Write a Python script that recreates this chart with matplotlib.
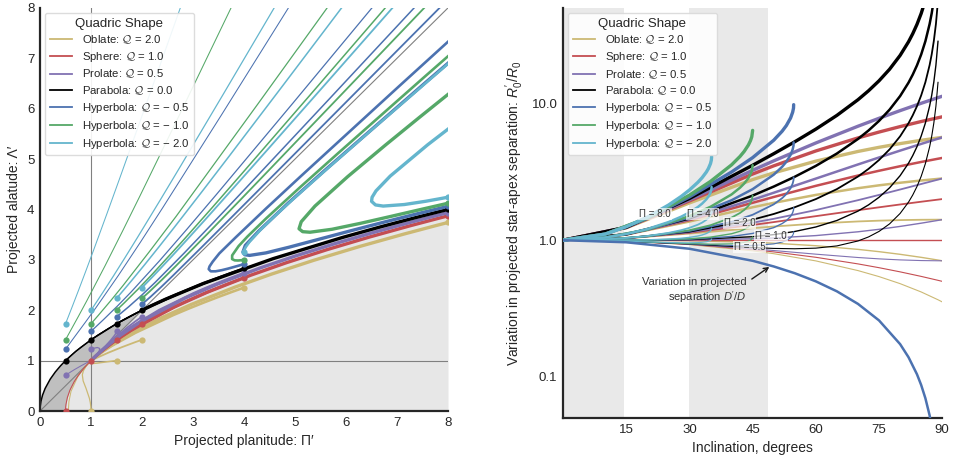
import numpy as np
import matplotlib
matplotlib.use("Agg")
import matplotlib.pyplot as plt
from matplotlib.lines import Line2D
from matplotlib.ticker import FixedLocator, FormatStrFormatter, NullLocator

plt.rcParams['font.family'] = ['Liberation Sans', 'DejaVu Sans']
plt.rcParams['mathtext.fontset'] = 'custom'
plt.rcParams['mathtext.rm'] = 'Liberation Sans'
plt.rcParams['mathtext.it'] = 'Liberation Sans:italic'
plt.rcParams['mathtext.bf'] = 'Liberation Sans:bold'
plt.rcParams['mathtext.cal'] = 'cmsy10'

# ---------------- categories ----------------
Q_VALUES = [2.0, 1.0, 0.5, 0.0, -0.5, -1.0, -2.0]
Q_NAMES = ['Oblate', 'Sphere', 'Prolate', 'Parabola', 'Hyperbola', 'Hyperbola', 'Hyperbola']
Q_COLORS = ['#CCB974', '#C44E52', '#8172B2', '#000000', '#4C72B0', '#55A868', '#64B5CD']
PI_LEFT = [0.5, 1.0, 1.5, 2.0, 4.0, 8.0]
PI_RIGHT = [0.5, 1.0, 2.0, 4.0, 8.0]

# ---------------- left panel: tracks (projected planitude, projected alatude) ----------------
TRACK_OBLATE = {
    0.5: ([0.5556, 0.56617, 0.60770, 0.74048, 0.84693, 0.96443, 1.0],
          [0.0, 0.1851, 0.3915, 0.68239, 0.83069, 0.9637, 1.0]),
    1.0: ([1.0, 0.99623, 0.98536, 0.96864, 0.90162, 0.84530, 0.82937, 0.85020, 0.90352, 0.94542, 0.98796, 1.0],
          [0.0, 0.0868, 0.17106, 0.25068, 0.45082, 0.59772, 0.71825, 0.79893, 0.88980, 0.94182, 0.98781, 1.0]),
    1.5: ([1.5, 1.42901, 1.27167, 1.11814, 1.01497, 0.98064, 0.97509, 0.98356, 0.99604, 1.0],
          [1.0, 0.99176, 0.97126, 0.95024, 0.94185, 0.94824, 0.96689, 0.98148, 0.99595, 1.0]),
    2.0: ([2.0, 1.87444, 1.6, 1.33333, 1.14286, 1.06212, 1.01530, 1.00382, 1.00016, 1.0],
          [1.41421, 1.36910, 1.26491, 1.15470, 1.06904, 1.03060, 1.00762, 1.00191, 1.00008, 1.0]),
    4.0: ([4.0, 3.94001, 3.77093, 3.52048, 3.22367, 2.91271, 2.61140, 1.87444, 1.40916, 1.21332, 1.08226, 1.03578, 1.00636, 1.0],
          [2.44949, 2.42798, 2.36652, 2.27300, 2.15796, 2.03187, 1.90337, 1.55420, 1.29440, 1.16813, 1.07202, 1.03332, 1.00626, 1.0]),
    8.0: ([8.0, 7.76333, 7.13032, 6.27613, 5.37451, 4.53859, 3.81814, 2.96739, 2.35161, 1.59499, 1.30630, 1.11916, 1.05255, 1.00949, 1.0],
          [3.74166, 3.67991, 3.50987, 3.26769, 2.99307, 2.71666, 2.45688, 2.11555, 1.83573, 1.43078, 1.24518, 1.10591, 1.04942, 1.00937, 1.0]),
}
TRACK_SPHERE = {
    0.5: ([0.5, 0.500954, 0.503827, 0.50867, 0.53590, 0.58579, 0.66667, 0.74515, 0.85206, 0.91983, 0.98284, 1.0],
          [0.0, 0.04368, 0.08749, 0.13168, 0.26796, 0.41422, 0.57735, 0.70021, 0.83912, 0.91633, 0.98269, 1.0]),
    1.0: ([1.0], [1.0]),
    1.5: ([1.5, 1.47487, 1.40582, 1.30839, 1.2, 1.12868, 1.06144, 1.02992, 1.00585, 1.0],
          [1.41421, 1.39633, 1.34597, 1.27153, 1.18322, 1.12132, 1.05966, 1.02949, 1.00583, 1.0]),
    2.0: ([2.0, 1.93411, 1.76371, 1.54692, 1.33333, 1.20629, 1.09508, 1.04556, 1.00880, 1.0],
          [1.73205, 1.69358, 1.58979, 1.44701, 1.29099, 1.18852, 1.09095, 1.04457, 1.00876, 1.0]),
    4.0: ([4.0, 3.62907, 3.38719, 3.12237, 2.85323, 2.12915, 1.6, 1.34502, 1.14974, 1.06995, 1.01326, 1.0],
          [2.64575, 2.50163, 2.40300, 2.29014, 2.16944, 1.80507, 1.48324, 1.30002, 1.13995, 1.06766, 1.01317, 1.0]),
    8.0: ([8.0, 7.79218, 7.23111, 6.45952, 5.62529, 4.83138, 4.12835, 3.26993, 2.62274, 1.77778, 1.42708, 1.17916, 1.08256, 1.01551, 1.0],
          [3.87298, 3.81895, 3.66909, 3.45240, 3.20165, 2.94326, 2.69383, 2.35369, 2.06046, 1.59862, 1.36168, 1.16547, 1.07941, 1.01539, 1.0]),
}
TRACK_PROLATE = {
    0.5: ([0.5, 0.517327, 0.571429, 0.666667, 0.8, 0.895273, 0.970729, 0.992461, 0.999694, 1.0],
          [0.70711, 0.71926, 0.75593, 0.81650, 0.89443, 0.94619, 0.98526, 0.99622, 0.99985, 1.0]),
    1.0: ([1.0, 1.01688, 1.06394, 1.12661, 1.16997, 1.16093, 1.10433, 1.05738, 1.01218, 1.0],
          [1.22474, 1.23144, 1.24758, 1.25959, 1.24094, 1.19440, 1.11262, 1.05939, 1.01226, 1.0]),
    1.5: ([1.5, 1.49957, 1.49282, 1.46304, 1.38322, 1.28836, 1.15741, 1.08095, 1.01640, 1.0],
          [1.58114, 1.57538, 1.55377, 1.50313, 1.40230, 1.29671, 1.15935, 1.08141, 1.01642, 1.0]),
    2.0: ([2.0, 1.96622, 1.86965, 1.71987, 1.52189, 1.36318, 1.18593, 1.09313, 1.01855, 1.0],
          [1.87083, 1.84800, 1.77985, 1.66525, 1.49793, 1.35318, 1.18369, 1.09261, 1.01853, 1.0]),
    4.0: ([4.0, 3.68752, 3.47977, 3.24855, 3.00901, 2.33456, 1.79131, 1.49325, 1.23144, 1.11194, 1.02176, 1.0],
          [2.73861, 2.61872, 2.53544, 2.43887, 2.33380, 2.00061, 1.66812, 1.44611, 1.22154, 1.10970, 1.02168, 1.0]),
    8.0: ([8.0, 7.80655, 7.28327, 6.55808, 5.76699, 5.00708, 4.32774, 3.48744, 2.84256, 1.96525, 1.56806, 1.25553, 1.12158, 1.02337, 1.0],
          [3.93700, 3.88731, 3.74952, 3.54948, 3.31707, 3.07654, 2.84325, 2.52214, 2.24019, 1.76932, 1.49695, 1.24110, 1.11835, 1.02326, 1.0]),
}
TRACK_PARABOLA = {
    0.5: ([0.5, 0.52645, 0.61538, 0.8, 1.14286, 1.48045, 1.83408, 1.95544, 1.99817],
          [1.0, 1.02611, 1.10940, 1.26491, 1.51186, 1.72073, 1.91524, 1.97760, 1.99908]),
    1.0: ([1.0, 1.03465, 1.14286, 1.33333, 1.6, 1.79055, 1.94146, 1.98492, 1.99939],
          [1.41421, 1.43851, 1.51186, 1.63299, 1.78885, 1.89238, 1.97052, 1.99245, 1.99970]),
    1.5: ([1.5, 1.52555, 1.6, 1.71429, 1.84615, 1.92494, 1.98010, 1.9995],
          [1.73205, 1.74674, 1.78885, 1.85164, 1.92154, 1.96211, 1.99002, 1.99975]),
    2.0: ([2.0], [2.0]),
    4.0: ([4.0, 3.74887, 3.2, 2.66667, 2.28571, 2.12424, 2.03061, 2.0003],
          [2.82843, 2.73820, 2.52982, 2.30940, 2.13809, 2.06118, 2.01525, 2.00015]),
    8.0: ([8.0, 7.82172, 7.33634, 6.66133, 5.92184, 4.57143, 3.2, 2.46154, 2.19234, 2.04628, 2.00046],
          [4.0, 3.95518, 3.83049, 3.65002, 3.44146, 3.02372, 2.52982, 2.21880, 2.09396, 2.02301, 2.00023]),
}
TRACK_HYP05 = {
    0.5: ([0.5, 0.51558, 0.56689, 0.67176, 0.88576, 1.09383, 1.53780, 1.96967, 2.41418, 3.55821, 6.04302],
          [1.22474, 1.24694, 1.31916, 1.46408, 1.75684, 2.04638, 2.69267, 3.35145, 4.04761, 5.87637, 9.898]),
    1.0: ([1.0, 1.02323, 1.09800, 1.24383, 1.52295, 1.78358, 2.33743, 2.88609, 3.45985, 4.95884, 8.24525],
          [1.58114, 1.60317, 1.67404, 1.81319, 2.08827, 2.35949, 2.97485, 3.61456, 4.29820, 6.11007, 10.118]),
    1.5: ([1.5, 1.52314, 1.59659, 1.73686, 2.00334, 2.25829, 2.82752, 3.41577, 4.04378, 5.70754, 9.38844],
          [1.87083, 1.88944, 1.94925, 2.06730, 2.30687, 2.55276, 3.13527, 3.75825, 4.43197, 6.23140, 10.23]),
    2.0: ([2.0, 2.01546, 2.06561, 2.16619, 2.37846, 2.60491, 3.15861, 3.76096, 4.41638, 6.17379, 10.0880],
          [2.12132, 2.13415, 2.17661, 2.26548, 2.46412, 2.68511, 3.23915, 3.84900, 4.51526, 6.30578, 10.30]),
    4.0: ([4.0, 3.91247, 3.69273, 3.56380, 3.44258, 3.34783, 3.30743, 3.32393, 3.38409, 3.51498, 3.83164, 4.43282, 5.12466, 7.03581, 11.3571],
          [2.91548, 2.88940, 2.82699, 2.79474, 2.77221, 2.77179, 2.81600, 2.86938, 2.96111, 3.12696, 3.44066, 4.01977, 4.66949, 6.44103, 10.42]),
    8.0: ([8.0, 7.39057, 6.77041, 6.09232, 5.44465, 4.88049, 4.42827, 4.11009, 4.01455, 3.97923, 4.02457, 4.28856, 4.86760, 5.57150, 7.56394, 12.1194],
          [4.06202, 3.91214, 3.75455, 3.57646, 3.40181, 3.24977, 3.13746, 3.08791, 3.10073, 3.15570, 3.28589, 3.57099, 4.12651, 4.76422, 6.52251, 10.49]),
}
TRACK_HYP1 = {
    0.5: ([0.5, 0.51968, 0.58778, 0.74788, 0.91311, 1.27550, 1.62268, 1.96184, 2.71558, 3.77043, 5.85213],
          [1.41421, 1.45036, 1.57511, 1.86969, 2.17946, 2.88267, 3.57941, 4.27311, 5.83826, 8.0524, 12.45]),
    1.0: ([1.0, 1.03134, 1.13783, 1.37980, 1.62311, 2.15151, 2.66667, 3.15891, 4.27597, 5.84806],
          [1.73205, 1.76829, 1.89237, 2.18165, 2.48395, 3.17203, 3.86008, 4.54462, 6.09968, 8.3064]),
    1.5: ([1.5, 1.53518, 1.65367, 1.92078, 2.19100, 2.79031, 3.37937, 3.96544, 5.28903, 7.16390],
          [2.0, 2.03336, 2.14773, 2.41693, 2.70292, 3.36740, 4.04049, 4.71875, 6.26356, 8.4633]),
    2.0: ([2.0, 2.03135, 2.13839, 2.38916, 2.65554, 3.27676, 3.90829, 4.54576, 5.99974, 8.07200],
          [2.23607, 2.26426, 2.36267, 2.60352, 2.86965, 3.50889, 4.16934, 4.84017, 6.37602, 8.5700]),
    4.0: ([4.0, 3.94290, 3.88208, 3.81640, 3.76659, 3.76697, 3.89399, 4.07007, 4.43704, 5.10718, 5.82429, 7.51436, 9.96722],
          [3.0, 2.99165, 2.98645, 2.98968, 3.01478, 3.08771, 3.27288, 3.46466, 3.82529, 4.44761, 5.09748, 6.60930, 8.788]),
    8.0: ([8.0, 7.44663, 6.88554, 6.28062, 5.72524, 5.29328, 5.14939, 5.07814, 5.12177, 5.39161, 6.03246, 6.77738, 7.44317, 8.59987],
          [4.12311, 3.99468, 3.86339, 3.72380, 3.60641, 3.54776, 3.55879, 3.61664, 3.75596, 4.06718, 4.65099, 5.28114, 5.83041, 6.77155]),
}
TRACK_HYP2 = {
    0.5: ([0.5, 0.52819, 0.56848, 0.63771, 0.76243, 0.89652, 1.04435, 1.31100, 1.56087, 2.06298, 2.62828, 3.04349],
          [1.73205, 1.80425, 1.90787, 2.08729, 2.41527, 2.77425, 3.17627, 3.91353, 4.61372, 6.03585, 7.6495, 8.839]),
    1.0: ([1.0, 1.04817, 1.11653, 1.23296, 1.44067, 1.66253, 1.90651, 2.34658, 2.75955, 3.59117, 4.52946, 5.21948],
          [2.0, 2.07250, 2.17625, 2.35526, 2.68141, 3.03784, 3.43701, 4.16976, 4.86659, 6.28393, 7.8942, 9.082]),
    1.5: ([1.5, 1.56012, 1.64524, 1.78986, 2.04794, 2.32459, 2.63033, 3.18527, 3.70897, 4.76867, 5.96863],
          [2.23607, 2.30633, 2.40697, 2.58090, 2.89906, 3.24847, 3.64152, 4.36627, 5.05792, 6.46860, 8.0744]),
    2.0: ([2.0, 2.06424, 2.15558, 2.31199, 2.59482, 2.90251, 3.24662, 3.87834, 4.47956, 5.70378, 7.09594],
          [2.44949, 2.51543, 2.61039, 2.77585, 3.08193, 3.42176, 3.80700, 4.52222, 5.20805, 6.61159, 8.2129]),
    4.0: ([4.0, 4.00581, 4.03142, 4.11079, 4.32870, 4.62858, 5.00602, 5.75750, 6.50773, 8.08058],
          [3.16228, 3.19539, 3.25052, 3.36198, 3.60084, 3.89366, 4.24406, 4.92024, 5.58392, 6.96180]),
    8.0: ([8.0, 7.88142, 7.56222, 7.14285, 6.72812, 6.57765, 6.50062, 6.51065, 6.58723, 6.86658, 7.59828, 8.41202],
          [4.24264, 4.22013, 4.16213, 4.09740, 4.06664, 4.08932, 4.16051, 4.24117, 4.36782, 4.66189, 5.28113, 5.91512]),
}
TRACKS = [TRACK_OBLATE, TRACK_SPHERE, TRACK_PROLATE, TRACK_PARABOLA, TRACK_HYP05, TRACK_HYP1, TRACK_HYP2]
NO_START_DOT = [(2.0, 0.5)]

# shaded regions (left panel)
FILL_PI = [0, 0.005, 0.02, 0.05, 0.1, 0.2, 0.3, 0.4, 0.5, 0.7, 1.0, 1.5, 2, 3, 4, 5, 6, 7, 8]
FILL_LAM = [0, 0.1, 0.2, 0.31623, 0.44721, 0.63246, 0.77460, 0.89443, 1.0, 1.18322, 1.41421,
            1.73205, 2.0, 2.44949, 2.82843, 3.16228, 3.46410, 3.74166, 4.0]
DARK_PI = [0, 0.005, 0.02, 0.05, 0.1, 0.2, 0.3, 0.4, 0.5, 0.505, 0.52, 0.55, 0.6, 0.7, 0.8, 0.9,
           1.0, 1.2, 1.4, 1.6, 1.8, 2.0]
DARK_UPPER = [0, 0.1, 0.2, 0.31623, 0.44721, 0.63246, 0.77460, 0.89443, 1.0, 1.00499, 1.01980,
              1.04881, 1.09545, 1.18322, 1.26491, 1.34164, 1.41421, 1.54919, 1.67332, 1.78885, 1.89737, 2.0]
DARK_LOWER = [0, 0, 0, 0, 0, 0, 0, 0, 0, 0.1, 0.2, 0.31623, 0.44721, 0.63246, 0.77460, 0.89443,
              1.0, 1.2, 1.4, 1.6, 1.8, 2.0]

# ---------------- right panel: R0'/R0 vs inclination ----------------
INC_ELL = [0, 15, 30, 45, 50, 60, 70, 75, 80, 85, 89, 90]
R0_OBLATE = {
    0.5: [1.0, 0.98268, 0.92903, 0.83652, 0.79701, 0.70572, 0.59958, 0.54170, 0.48111, 0.41825, 0.36662, 0.35355],
    1.0: [1.0, 0.99944, 0.99203, 0.96593, 0.95124, 0.91144, 0.85713, 0.82457, 0.78858, 0.74935, 0.71578, 0.70711],
    2.0: [1.0, 1.03295, 1.11803, 1.22474, 1.25969, 1.32288, 1.37224, 1.39033, 1.40351, 1.41153, 1.41411, 1.41421],
    4.0: [1.0, 1.09997, 1.37004, 1.74238, 1.87660, 2.14575, 2.40246, 2.52184, 2.63337, 2.73590, 2.81077, 2.82843],
    8.0: [1.0, 1.23401, 1.87406, 2.77766, 3.11040, 3.79150, 4.46290, 4.78486, 5.09310, 5.38464, 5.60408, 5.65685],
}
R0_SPHERE = {
    0.5: [1.0, 0.98296, 0.93301, 0.85355, 0.82139, 0.75, 0.67101, 0.62941, 0.58682, 0.54358, 0.50873, 0.5],
    1.0: [1.0, 1.0, 1.0, 1.0, 1.0, 1.0, 1.0, 1.0, 1.0, 1.0, 1.0, 1.0],
    2.0: [1.0, 1.03407, 1.13397, 1.29289, 1.35721, 1.5, 1.65798, 1.74118, 1.82635, 1.91284, 1.98255, 2.0],
    4.0: [1.0, 1.10221, 1.40192, 1.87868, 2.07164, 2.5, 2.97394, 3.22354, 3.47906, 3.73851, 3.94764, 4.0],
    8.0: [1.0, 1.23849, 1.93782, 3.05025, 3.50048, 4.5, 5.60586, 6.18827, 6.78446, 7.38988, 7.87784, 8.0],
}
R0_PROLATE = {
    0.5: [1.0, 0.98311, 0.93541, 0.86603, 0.84059, 0.79057, 0.74732, 0.73041, 0.71769, 0.70979, 0.70722, 0.70711],
    1.0: [1.0, 1.00029, 1.00480, 1.02494, 1.03839, 1.08114, 1.15262, 1.20200, 1.26173, 1.33241, 1.39698, 1.41421],
    2.0: [1.0, 1.03465, 1.14358, 1.34278, 1.43399, 1.66228, 1.96322, 2.14517, 2.34982, 2.57767, 2.77650, 2.82843],
    4.0: [1.0, 1.10338, 1.42113, 1.97845, 2.22519, 2.82455, 3.58443, 4.03152, 4.52596, 5.06818, 5.53556, 5.65685],
    8.0: [1.0, 1.24083, 1.97617, 3.24976, 3.80759, 5.14911, 6.82684, 7.80423, 8.87827, 10.04919, 11.05366, 11.31371],
}
INC_PAR = [0, 15, 30, 45, 50, 55, 60, 65, 70, 72.5, 75, 77.5, 80, 82, 83, 84, 85, 86, 87, 87.5, 88, 88.5, 89]
R0_PARABOLA = {
    0.5: [1.0, 0.98327, 0.93820, 0.88388, 0.87102, 0.86604, 0.875, 0.90852, 0.98747, 1.05691, 1.16004, 1.31738,
          1.56993, 1.90073, 2.14279, 2.47010, 2.93379, 3.63624, 4.81608, 5.76416, 7.18971, 9.57002, 14.33808],
    1.0: [1.0, 1.00061, 1.01036, 1.06066, 1.09926, 1.15851, 1.25, 1.39441, 1.63292, 1.81311, 2.06126, 2.41833,
          2.96621, 3.66229, 4.16371, 4.83567, 5.78042, 7.20272, 9.57982, 11.4847, 14.34452, 19.11385, 28.65870],
    2.0: [1.0, 1.03528, 1.15470, 1.41421, 1.55572, 1.74345, 2.0, 2.36620, 2.92381, 3.32551, 3.86369, 4.62022,
          5.75876, 7.18540, 8.20555, 9.56682, 11.47368, 14.33567, 19.1073, 22.92578, 28.65413, 38.20153, 57.29995],
    4.0: [1.0, 1.10463, 1.44338, 2.12132, 2.46866, 2.91332, 3.5, 4.30979, 5.50560, 6.35031, 7.46856, 9.02399,
          11.34387, 14.23163, 16.28923, 19.02911, 22.86020, 28.60158, 38.16226, 45.80794, 57.27336, 76.35, 114.58],
    8.0: [1.0, 1.24334, 2.02073, 3.53553, 4.29453, 5.25307, 6.5, 8.19696, 10.66918, 12.39991, 14.6783, 17.83154,
          22.51409, 28.32408, 32.45659, 37.95369, 45.63324, 57.13340, 76.27, 91.57, 114.51, 152.7, 229.15],
}
INC_HYP05 = [0, 10, 20, 30, 40, 45, 50, 52, 53, 54, 54.5, 54.7, 54.7356]
R0_HYP05 = {
    0.5: [1.0, 0.99250, 0.97134, 0.94149, 0.91545, 0.91422, 0.93951, 0.96948, 0.99562, 1.04053, 1.08510, 1.12071, 1.15470],
    1.0: [1.0, 1.00018, 1.00299, 1.01695, 1.06485, 1.12133, 1.23623, 1.32330, 1.38942, 1.49327, 1.58951, 1.66338, 1.73205],
    2.0: [1.0, 1.01556, 1.06630, 1.16787, 1.36367, 1.53555, 1.82967, 2.03094, 2.17702, 2.39876, 2.59831, 2.74870, 2.88675],
    4.0: [1.0, 1.04631, 1.19291, 1.46972, 1.96130, 2.36399, 3.01656, 3.44622, 3.75223, 4.20973, 4.61591, 4.91936, 5.19615],
    8.0: [1.0, 1.10780, 1.44612, 2.07341, 3.15655, 4.02087, 5.39033, 6.27678, 6.90264, 7.83166, 8.65112, 9.26067, 9.81495],
}
INC_HYP1 = [0, 10, 20, 30, 35, 40, 42, 43, 44, 44.5, 44.8, 45]
R0_HYP1 = {
    0.5: [1.0, 0.992523, 0.97192, 0.945484, 0.936315, 0.94071, 0.953064, 0.964974, 0.985603, 1.003822, 1.02258, 1.06066],
    1.0: [1.0, 1.000238, 1.004147, 1.024943, 1.053479, 1.115377, 1.162982, 1.198594, 1.251867, 1.294394, 1.335589, 1.414214],
    2.0: [1.0, 1.015668, 1.068601, 1.183861, 1.287806, 1.46471, 1.582819, 1.665834, 1.784394, 1.875538, 1.961607, 2.12132],
    4.0: [1.0, 1.046528, 1.197509, 1.501697, 1.75646, 2.163376, 2.422493, 2.600314, 2.849448, 3.037826, 3.213643, 3.535534],
    8.0: [1.0, 1.108248, 1.455325, 2.137369, 2.693768, 3.560708, 4.101841, 4.469274, 4.979556, 5.362402, 5.717715, 6.363961],
}
INC_HYP2 = [0, 10, 15, 20, 25, 28, 30, 32, 33, 34, 34.5, 35, 35.2, 35.2644]
R0_HYP2 = {
    0.5: [1.0, 0.992586, 0.983935, 0.973204, 0.962558, 0.958171, 0.957531, 0.960826, 0.965384, 0.974094, 0.981712, 0.995403, 1.007337, 1.020621],
    1.0: [1.0, 1.000364, 1.001944, 1.006717, 1.018808, 1.033395, 1.049038, 1.073604, 1.092097, 1.11915, 1.139298, 1.171654, 1.197531, 1.224745],
    2.0: [1.0, 1.015919, 1.037962, 1.07374, 1.131307, 1.183841, 1.23205, 1.29916, 1.345523, 1.409261, 1.454469, 1.524155, 1.577916, 1.632993],
    4.0: [1.0, 1.04703, 1.109998, 1.207787, 1.356306, 1.484734, 1.598075, 1.750272, 1.852375, 1.989484, 2.084812, 2.229158, 2.338687, 2.449491],
    8.0: [1.0, 1.109252, 1.25407, 1.475881, 1.806304, 2.08652, 2.330125, 2.652496, 2.866079, 3.14993, 3.345498, 3.639164, 3.860229, 4.082485],
}
R0_INC = [INC_ELL, INC_ELL, INC_ELL, INC_PAR, INC_HYP05, INC_HYP1, INC_HYP2]
R0_DATA = [R0_OBLATE, R0_SPHERE, R0_PROLATE, R0_PARABOLA, R0_HYP05, R0_HYP1, R0_HYP2]

# projected separation D'/D
INC_D = [0, 15, 30, 45, 50, 55, 60, 65, 70, 75, 80, 82, 84, 85, 86, 87, 88]
D_RATIO = [1.0, 0.96593, 0.86603, 0.70711, 0.64279, 0.57358, 0.5, 0.42262, 0.34202, 0.25882,
           0.17365, 0.13917, 0.10453, 0.08716, 0.06976, 0.05234, 0.03490]

# inclination quartile bands
BANDS = [(0.0, 14.4775), (30.0, 48.5904)]

# inline labels of parabola curves
LABEL_PI = [8.0, 4.0, 2.0, 1.0, 0.5]
LABEL_INC = [21.8, 33.1, 41.9, 49.3, 44.3]
LABEL_R0 = [1.56, 1.56, 1.33, 1.075, 0.888]

# ---------------- styles ----------------
LW_LEFT = {0.5: 0.75, 1.0: 0.9, 1.5: 1.1, 2.0: 1.3, 4.0: 1.9, 8.0: 2.4}
LW_RIGHT = {0.5: 0.8, 1.0: 1.0, 2.0: 1.3, 4.0: 1.8, 8.0: 2.4}

fig = plt.figure(figsize=(9.6, 4.55), dpi=100)
axL = fig.add_axes([0.0417, 0.0967, 0.425, 0.886])
axR = fig.add_axes([0.5865, 0.0813, 0.395, 0.901])

def style_axes(ax):
    for side in ['top', 'right']:
        ax.spines[side].set_visible(False)
    for side in ['left', 'bottom']:
        ax.spines[side].set_color('0.15')
        ax.spines[side].set_linewidth(1.6)
    ax.tick_params(length=0, labelsize=9.5, pad=4, colors='0.15')

def legend_handles():
    hs = []
    for name, q, col in zip(Q_NAMES, Q_VALUES, Q_COLORS):
        if q < 0:
            val = '\u2212 %.1f' % abs(q)
        else:
            val = '%.1f' % q
        lab = '%s: $\\mathcal{Q}$ = %s' % (name, val)
        hs.append(Line2D([], [], color=col, lw=1.3, label=lab))
    return hs

def make_legend(ax):
    leg = ax.legend(handles=legend_handles(), title='Quadric Shape', loc='upper left',
                    fontsize=8.2, title_fontsize=9.5, frameon=True, borderaxespad=0.45,
                    handlelength=2.0, labelspacing=0.34, handletextpad=0.8, borderpad=0.4)
    leg.get_frame().set_edgecolor('0.85')
    leg.get_frame().set_facecolor('white')
    leg.get_frame().set_alpha(0.9)
    for t in leg.get_texts():
        t.set_color('0.15')
    leg.get_title().set_color('0.15')
    leg.set_zorder(10)
    return leg

# ----- left panel -----
axL.fill_between(FILL_PI, 0, FILL_LAM, color='0.905', lw=0, zorder=0)
axL.fill_between(DARK_PI, DARK_LOWER, DARK_UPPER, color='0.75', lw=0, zorder=0.5)
axL.plot(FILL_PI, FILL_LAM, color='k', lw=1.1, zorder=1)
axL.axvline(1.0, color='0.5', lw=0.8, zorder=1)
axL.axhline(1.0, color='0.5', lw=0.8, zorder=1)
axL.axline((0, 0), slope=1, color='0.5', lw=0.8, zorder=1)

for q, col, tracks in zip(Q_VALUES, Q_COLORS, TRACKS):
    for pi in PI_LEFT:
        if pi not in tracks:
            continue
        P, L = tracks[pi]
        axL.plot(P, L, color=col, lw=LW_LEFT[pi], zorder=3, solid_capstyle='round',
                 solid_joinstyle='round')
        if (q, pi) not in NO_START_DOT:
            axL.plot(P[0], L[0], 'o', color=col, ms=4.5, mec='none', zorder=5)

axL.set_xlim(0, 8)
axL.set_ylim(0, 8)
axL.set_xticks(range(0, 9))
axL.set_yticks(range(0, 9))
style_axes(axL)
axL.set_xlabel("Projected planitude: \u03a0\u2032", fontsize=10, color='0.15')
axL.set_ylabel("Projected alatude: \u039b\u2032", fontsize=10, color='0.15')
make_legend(axL)

# ----- right panel -----
for a, b in BANDS:
    axR.axvspan(a, b, color='0.915', lw=0, zorder=0)

for q, col, incs, data in zip(Q_VALUES, Q_COLORS, R0_INC, R0_DATA):
    for pi in PI_RIGHT:
        axR.plot(incs, data[pi], color=col, lw=LW_RIGHT[pi], zorder=3,
                 solid_capstyle='round', solid_joinstyle='round')

axR.plot(INC_D, D_RATIO, color='#4C72B0', lw=1.8, zorder=4)

for pi, x, y in zip(LABEL_PI, LABEL_INC, LABEL_R0):
    axR.text(x, y, 'Π = %.1f' % pi, fontsize=7, ha='center', va='center', color='0.2',
             zorder=6, bbox=dict(boxstyle='square,pad=0.1', fc='white', ec='none', alpha=0.7))

axR.annotate("Variation in projected\nseparation $D'/D$", xy=(49.5, 0.655),
             xytext=(43.6, 0.425), fontsize=8, ha='right', va='center', color='0.2',
             multialignment='right',
             arrowprops=dict(arrowstyle='->', color='0.1', lw=1.0, relpos=(1.0, 0.8),
                             shrinkA=2, shrinkB=2), zorder=7)

axR.set_yscale('log')
axR.set_xlim(0, 90)
axR.set_ylim(0.05, 50)
axR.yaxis.set_major_locator(FixedLocator([0.1, 1.0, 10.0]))
axR.yaxis.set_major_formatter(FormatStrFormatter('%.1f'))
axR.yaxis.set_minor_locator(NullLocator())
axR.set_xticks([15, 30, 45, 60, 75, 90])
style_axes(axR)
axR.set_xlabel('Inclination, degrees', fontsize=10, color='0.15')
axR.set_ylabel(r"Variation in projected star-apex separation: $R_0'/R_0$", fontsize=10, color='0.15')
make_legend(axR)

fig.savefig('out.png', dpi=100)
